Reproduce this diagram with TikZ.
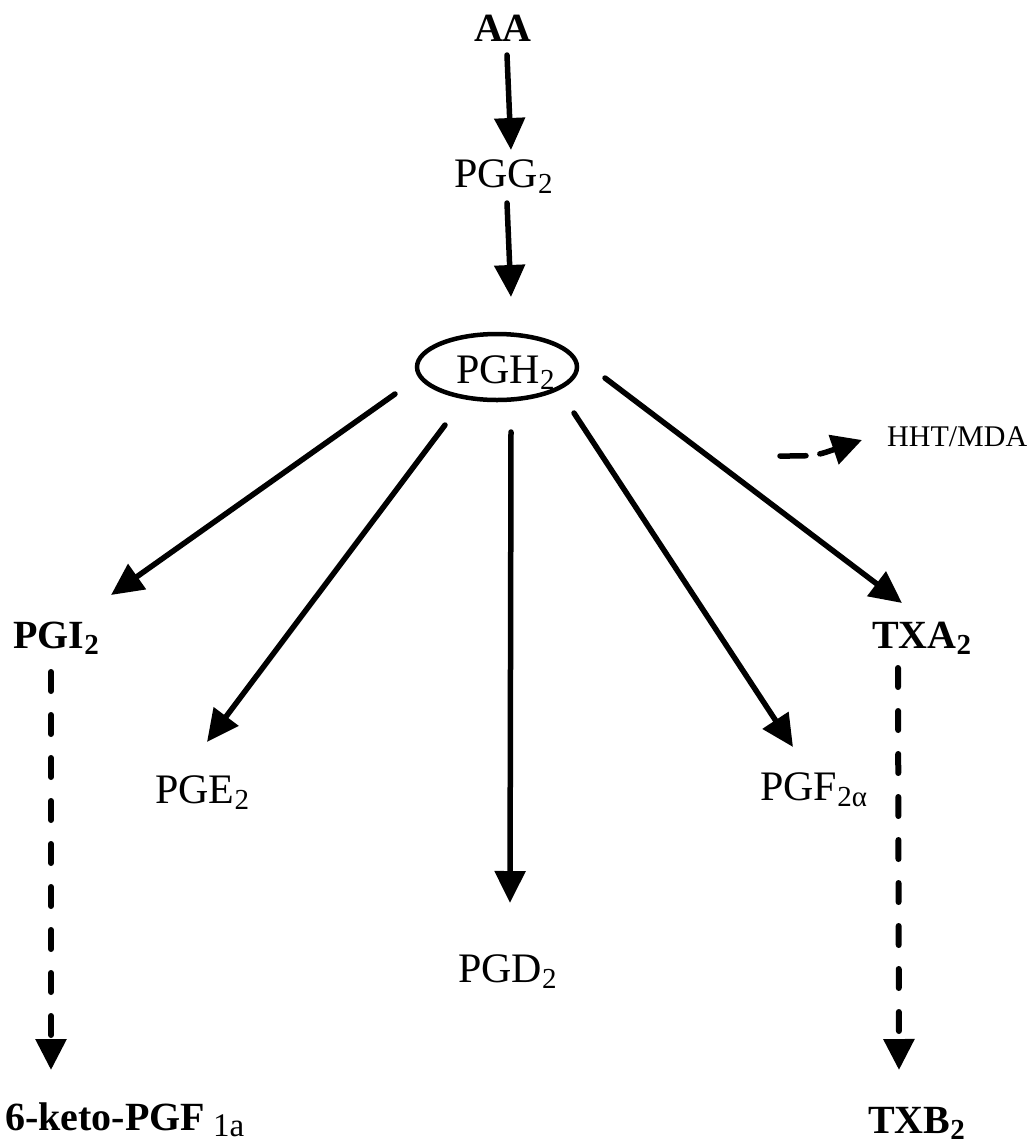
\documentclass[tikz,border=0pt]{standalone}
\usepackage{fontspec}
\setmainfont{Liberation Serif}
\usetikzlibrary{arrows.meta,shapes.geometric,calc}
\newcommand\sbs[1]{\raisebox{-6pt}{\fontsize{29pt}{29pt}\selectfont #1}}
\tikzset{
  lbl/.style={inner sep=0pt, font=\fontsize{42pt}{42pt}\selectfont},
  blbl/.style={inner sep=0pt, font=\fontsize{40pt}{40pt}\selectfont\bfseries},
  arr/.style={line width=5.5pt, line cap=round, -{Triangle[width=30pt,length=32pt]}},
  darr/.style={line width=6pt, line cap=round, dash pattern=on 19pt off 24pt, -{Triangle[width=30pt,length=31pt]}},
  hharr/.style={line width=5.5pt, line cap=round, dash pattern=on 26pt off 14pt, -{Triangle[width=30pt,length=30pt]}},
}
\begin{document}
\begin{tikzpicture}[x=1pt,y=-1pt]
\useasboundingbox (0,0) rectangle (1033,1144);
% nodes
\node[blbl, anchor=base] (AA) at (503,41) {AA};
\node[lbl, anchor=base west] (PGG) at (454,187) {PGG\sbs{2}};
\node[ellipse, draw, line width=4.5pt, minimum width=160pt, minimum height=66pt, inner sep=0pt] (PGH) at (497,367) {};
\node[lbl, anchor=base west] (PGHt) at (456,383) {PGH\sbs{2}};
\node[blbl, anchor=base west] (PGI) at (13,648) {PGI\sbs{2}};
\node[blbl, anchor=base west] (TXA) at (872,648) {TXA\sbs{2}};
\node[lbl, anchor=base west] (PGE) at (155,803) {PGE\sbs{2}};
\node[lbl, anchor=base west] (PGF) at (760,800) {PGF\sbs{2α}};
\node[lbl, anchor=base west] (PGD) at (458,982) {PGD\sbs{2}};
\node[inner sep=0pt, font=\fontsize{30pt}{30pt}\selectfont, anchor=base west] (HHT) at (887,446) {HHT/MDA};
\node[blbl, anchor=base west] (KETO) at (5,1130) {6-keto-PGF\hspace{8pt}\raisebox{-6pt}{\fontsize{33pt}{33pt}\selectfont\mdseries 1a}};
\node[blbl, anchor=base west] (TXB) at (868,1133) {TXB\sbs{2}};
\coordinate (hhtstart) at (780,456);
% connectors
\draw[arr] ($(AA.base)+(4,14)$) -- ($(PGG.base west)+(57,-37)$);
\draw[arr] ($(PGG.base west)+(53,16)$) -- ($(PGH.center)+(14,-70)$);
\draw[arr] ($(PGH.center)+(-102,27)$) -- ($(PGI.base west)+(98,-53)$);
\draw[arr] ($(PGH.center)+(-52,58)$) -- ($(PGE.base west)+(52,-61)$);
\draw[arr] ($(PGH.center)+(14,65)$) -- ($(PGD.base west)+(52,-79)$);
\draw[arr] ($(PGH.center)+(77,46)$) -- ($(PGF.base west)+(33,-53)$);
\draw[arr] ($(PGH.center)+(108,11)$) -- ($(TXA.base west)+(30,-45)$);
\draw[hharr] (hhtstart) .. controls (815,456) .. ($(HHT.base west)+(-25,-6)$);
\draw[darr] ($(PGI.base west)+(38,24)$) -- ($(KETO.base west)+(46,-60)$);
\draw[darr] ($(TXA.base west)+(26,20)$) -- ($(TXB.base west)+(31,-63)$);
\end{tikzpicture}
\end{document}
